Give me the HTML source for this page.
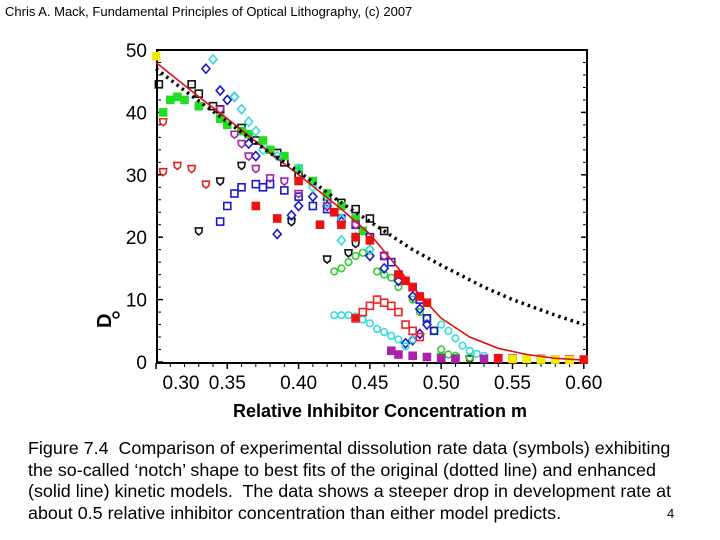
<!DOCTYPE html>
<html><head><meta charset="utf-8">
<style>
body{margin:0;background:#fff;width:720px;height:540px;overflow:hidden;font-family:"Liberation Sans",Arial,sans-serif;}
#wrap{position:relative;width:720px;height:540px;}
.hdr{position:absolute;left:5px;top:4px;font-size:13px;color:#000;}
.cap{position:absolute;left:28px;top:438px;font-size:17.9px;line-height:21.6px;color:#000;white-space:nowrap;}
.pg{position:absolute;left:667px;top:506px;font-size:13px;}
</style></head>
<body><div id="wrap">
<div class="hdr">Chris A. Mack, Fundamental Principles of Optical Lithography, (c) 2007</div>
<svg id="chart" width="720" height="540" style="position:absolute;left:0;top:0"></svg>
<div class="cap">Figure 7.4&nbsp; Comparison of experimental dissolution rate data (symbols) exhibiting<br>the so-called ‘notch’ shape to best fits of the original (dotted line) and enhanced<br>(solid line) kinetic models.&nbsp; The data shows a steeper drop in development rate at<br>about 0.5 relative inhibitor concentration than either model predicts.</div>
<div class="pg">4</div>
</div>
<script>
const xTicks=[0.30,0.35,0.40,0.45,0.50,0.55,0.60];
const xTickLabels=["0.30","0.35","0.40","0.45","0.50","0.55","0.60"];
const yTicks=[0,10,20,30,40,50];
const yTickLabels=["0","10","20","30","40","50"];
const dottedModel=[[0.30,47],[0.32,43.5],[0.35,38.5],[0.38,33.5],[0.40,30.5],[0.43,25.5],[0.45,22.5],[0.48,18],[0.50,15.5],[0.53,12],[0.55,10],[0.58,7.5],[0.60,6]];
const solidModel=[[0.30,48],[0.33,42.5],[0.35,39],[0.38,33.5],[0.40,30],[0.43,24.5],[0.45,20.5],[0.47,15],[0.48,12],[0.49,9.5],[0.50,7],[0.52,4],[0.54,2.2],[0.56,1.2],[0.58,0.6],[0.60,0.3]];
const blackSquares=[[0.302,44.5],[0.325,44.5],[0.33,43],[0.34,41],[0.345,40.5],[0.36,37.5],[0.37,35.5],[0.385,33.5],[0.39,32],[0.40,30],[0.42,26.5],[0.43,25.5],[0.44,24.5],[0.45,23],[0.46,21]];
const blackDiamonds=[[0.33,21],[0.345,29],[0.36,31.5],[0.435,17.5],[0.44,19],[0.395,22.5],[0.42,16.5],[0.52,0.5]];
const greenFilled=[[0.305,40],[0.31,42],[0.315,42.5],[0.32,42],[0.33,41],[0.345,39],[0.35,38],[0.36,37],[0.365,36.5],[0.375,35.5],[0.38,34],[0.39,33],[0.40,31],[0.41,29],[0.42,27],[0.43,25],[0.44,23],[0.445,21],[0.50,0.8],[0.51,0.6]];
const greenCircles=[[0.425,14.5],[0.43,15],[0.435,16],[0.44,17],[0.445,17.5],[0.45,18],[0.455,14.5],[0.46,14],[0.465,13.5],[0.47,12],[0.48,10],[0.485,8],[0.49,7],[0.495,5],[0.50,2],[0.505,1.2],[0.51,1],[0.52,0.7]];
const blueSquares=[[0.345,22.5],[0.35,25],[0.355,27],[0.36,28],[0.37,28.5],[0.375,28],[0.38,28.5],[0.39,27.5],[0.40,26.5],[0.41,25],[0.42,24.5],[0.43,23],[0.44,22],[0.45,20],[0.46,17],[0.465,16],[0.47,14],[0.48,12],[0.485,10],[0.49,7],[0.495,5]];
const blueDiamonds=[[0.335,47],[0.345,43.5],[0.35,42],[0.355,42.5],[0.365,35],[0.37,33],[0.385,20.5],[0.395,23.5],[0.40,25],[0.41,26.5],[0.42,25],[0.43,22.5],[0.44,20],[0.45,17],[0.46,15],[0.47,13],[0.48,10.5],[0.485,8.5],[0.49,6],[0.475,3],[0.48,3.5],[0.485,4.5]];
const cyanDiamonds=[[0.34,48.5],[0.355,42.5],[0.36,40.5],[0.365,38.5],[0.37,37],[0.375,34],[0.385,33],[0.40,31],[0.41,28],[0.42,25.5],[0.43,23],[0.44,20],[0.45,18],[0.43,19.5]];
const cyanCircles=[[0.425,7.5],[0.43,7.5],[0.435,7.5],[0.44,7.3],[0.445,6.8],[0.45,6.2],[0.455,5.3],[0.46,4.8],[0.465,4.2],[0.47,3.6],[0.475,2.5],[0.48,3.6],[0.50,6],[0.505,5],[0.51,3.8],[0.515,2.6],[0.52,1.8],[0.525,1.3],[0.53,1],[0.54,0.7]];
const magentaOpen=[[0.345,40.5],[0.355,36.5],[0.36,35],[0.365,33],[0.37,31],[0.38,29.5],[0.39,29],[0.40,27],[0.42,25],[0.44,22],[0.45,19.5],[0.46,17]];
const magentaFilled=[[0.465,1.8],[0.47,1.2],[0.48,1],[0.49,0.8],[0.50,0.6],[0.51,0.5],[0.53,0.5],[0.54,0.5],[0.55,0.6],[0.56,0.5],[0.57,0.5],[0.58,0.4]];
const redFilled=[[0.37,25],[0.385,23],[0.40,29],[0.415,22],[0.425,24],[0.43,22],[0.44,20],[0.45,19.5],[0.47,14],[0.475,13],[0.48,12],[0.485,10.5],[0.49,9.5],[0.44,7],[0.54,0.6],[0.55,0.5],[0.57,0.4],[0.59,0.4],[0.60,0.4]];
const redOpenSquares=[[0.44,7],[0.445,8],[0.45,9],[0.455,10],[0.46,9.5],[0.465,9],[0.47,8],[0.475,6],[0.48,5],[0.485,4]];
const redPentagons=[[0.305,38.5],[0.305,30.5],[0.315,31.5],[0.325,31],[0.335,28.5]];
const yellowPts=[[0.30,49],[0.55,0.5],[0.56,0.5],[0.57,0.4],[0.58,0.4],[0.59,0.3]];

const L=157,R=587,T=50,B=363;
const xs=m=>156+(m-0.30)/0.05*71.3;
const ys=d=>362-d*6.24;
const svg=document.getElementById('chart');
const NS='http://www.w3.org/2000/svg';
function mk(tag,attrs,parent){const e=document.createElementNS(NS,tag);for(const k in attrs)e.setAttribute(k,attrs[k]);(parent||svg).appendChild(e);return e;}

const frame=mk('rect',{x:L,y:T,width:R-L,height:B-T,fill:'none',stroke:'#000','stroke-width':2});



xTicks.forEach((v,i)=>{
  const x=xs(v);
  const t=mk('line',{x1:x,x2:x,y1:B,y2:B+6,stroke:'#000','stroke-width':1.5});
  
  
  const lb=mk('text',{x:i===0?x+25:x,y:B+26,'text-anchor':'middle','font-size':19,'font-family':'Liberation Sans, sans-serif'});
  lb.textContent=xTickLabels[i];
  
  
});
for(let v=0.30;v<=0.601;v+=0.01){const x=xs(v);mk('line',{x1:x,x2:x,y1:B,y2:B+4,stroke:'#000','stroke-width':1});}
yTicks.forEach((v,i)=>{
  const y=ys(v);
  const t=mk('line',{x1:L,x2:L+6,y1:y,y2:y,stroke:'#000','stroke-width':1.5});
  
  
  mk('line',{x1:R-6,x2:R,y1:y,y2:y,stroke:'#000','stroke-width':1.5});
  const lb=mk('text',{x:L-10,y:y+7,'text-anchor':'end','font-size':19,'font-family':'Liberation Sans, sans-serif'});
  lb.textContent=yTickLabels[i];
  
  
});
for(let v=0;v<=50;v+=2){const y=ys(v);mk('line',{x1:L,x2:L+4,y1:y,y2:y,stroke:'#000'});mk('line',{x1:R-4,x2:R,y1:y,y2:y,stroke:'#000'});}

const xt=mk('text',{x:380,y:417,'text-anchor':'middle','font-size':18,'font-weight':'bold','font-family':'Liberation Sans, sans-serif'});
xt.textContent='Relative Inhibitor Concentration m';


const yt=mk('text',{x:0,y:0,transform:'translate(111,328) rotate(-90)','font-size':20,'font-weight':'bold','font-family':'Liberation Sans, sans-serif'});
yt.textContent='D';


const ysub=mk('circle',{cx:116,cy:315,r:3,fill:'none',stroke:'#000','stroke-width':1.5});



function path(pts){return pts.map((p,i)=>(i?'L':'M')+xs(p[0]).toFixed(1)+','+ys(p[1]).toFixed(1)).join('');}

function series(pts,name,color,shape,fill){
  const g=mk('g',{});
  
  
  pts.forEach(p=>{
    const x=xs(p[0]),y=ys(p[1]);let e;
    const a={fill:fill?color:'none',stroke:color,'stroke-width':1.6};
    if(shape==='sq'){a.x=x-3.5;a.y=y-3.5;a.width=7;a.height=7;e=mk('rect',a,g);}
    else if(shape==='di'){a.points=`${x},${y-4.5} ${x+4},${y} ${x},${y+4.5} ${x-4},${y}`;e=mk('polygon',a,g);}
    else if(shape==='pe'){a.points=`${x-3.5},${y-3} ${x+3.5},${y-3} ${x+3},${y+1.5} ${x},${y+4} ${x-3},${y+1.5}`;e=mk('polygon',a,g);}
    else {a.cx=x;a.cy=y;a.r=3.3;e=mk('circle',a,g);}
    
    
  });
}
series(blackSquares,'black-square-series','#111','sq',false);
series(blackDiamonds,'black-diamond-series','#111','pe',false);
series(greenFilled,'green-filled-series','#22dd22','sq',true);
series(greenCircles,'green-circle-series','#33cc33','ci',false);
series(blueSquares,'blue-square-series','#1a1acc','sq',false);
series(blueDiamonds,'blue-diamond-series','#1a1acc','di',false);
series(cyanDiamonds,'cyan-diamond-series','#33dddd','di',false);
series(cyanCircles,'cyan-circle-series','#33dddd','ci',false);
series(magentaOpen,'magenta-open-series','#aa22aa','pe',false);
series(magentaFilled,'magenta-filled-series','#aa22aa','sq',true);
series(redFilled,'red-filled-series','#ee1111','sq',true);
series(redOpenSquares,'red-open-square-series','#ee2222','sq',false);
series(redPentagons,'red-pentagon-series','#dd2222','pe',false);
series(yellowPts,'yellow-series','#eeee00','sq',true);

const sl=mk('path',{d:path(solidModel),fill:'none',stroke:'#dd1111','stroke-width':1.6});


const dl=mk('path',{d:path(dottedModel),fill:'none',stroke:'#000','stroke-width':3.5,'stroke-dasharray':'2.5 4'});


</script>
</body></html>
